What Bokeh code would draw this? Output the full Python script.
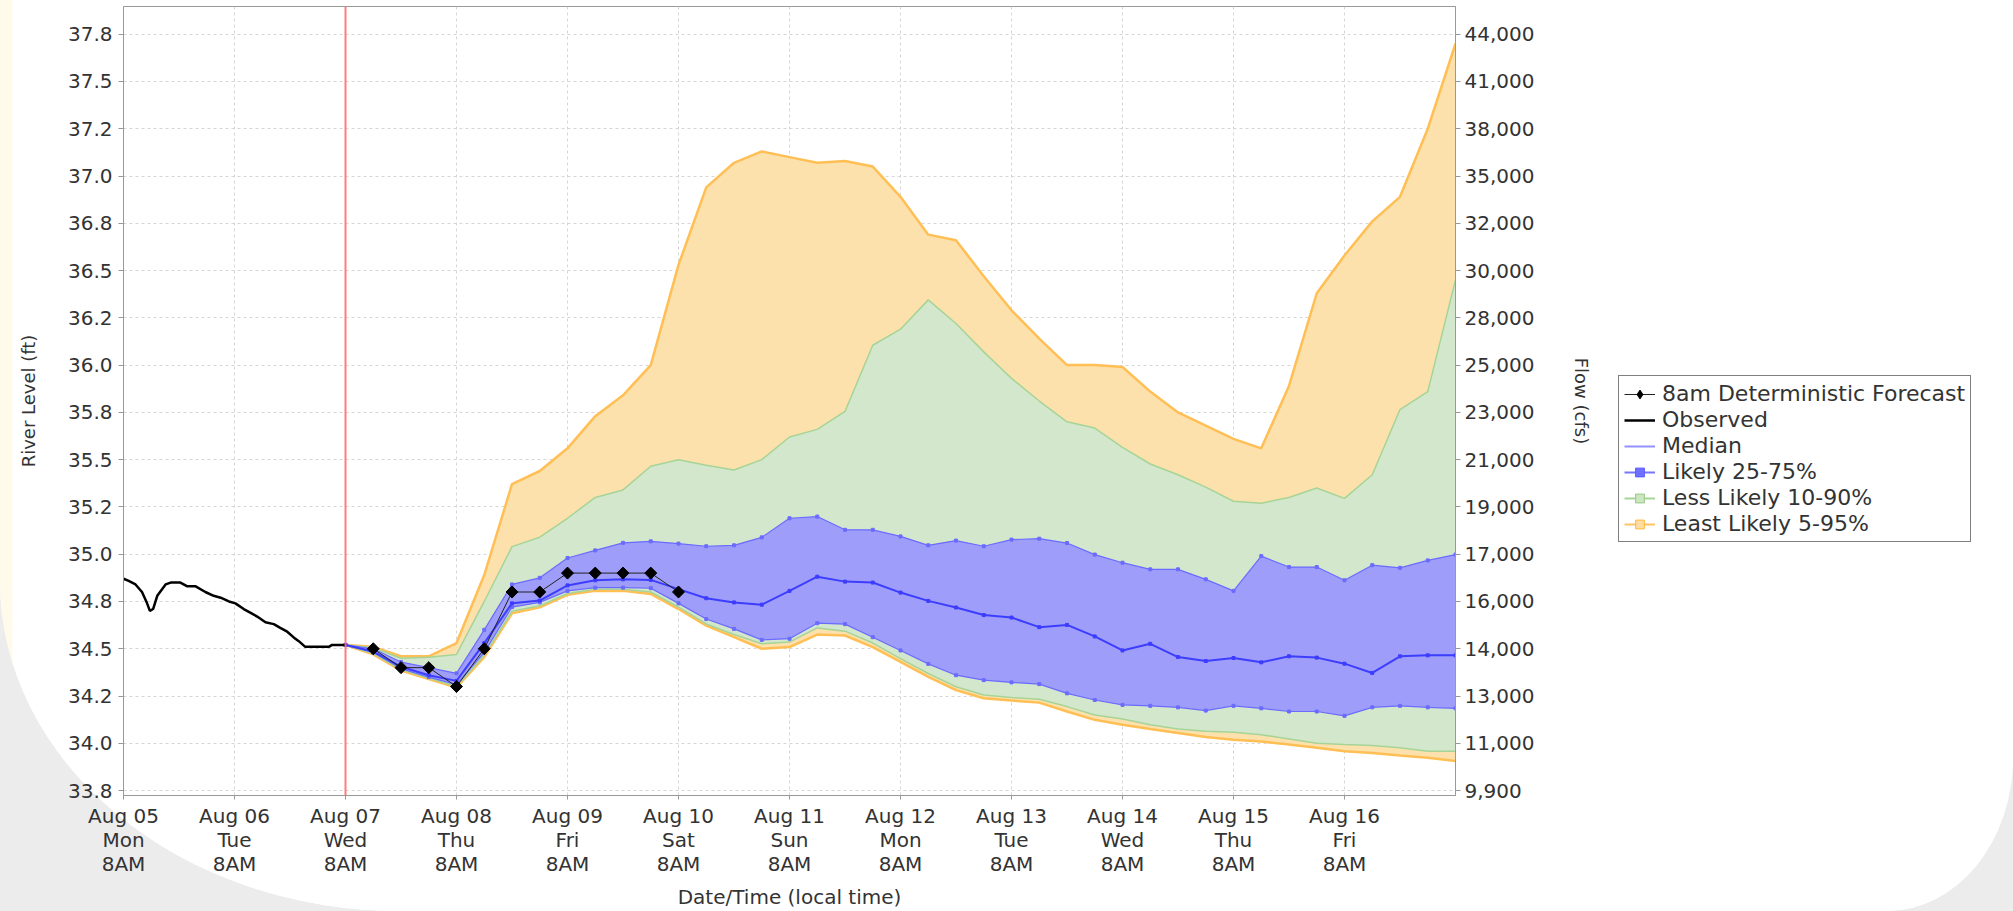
from bokeh.plotting import figure
from bokeh.layouts import row
from bokeh.models import (ColumnDataSource, Range1d, LinearAxis, FixedTicker, Span,
                          Legend, LegendItem, InlineStyleSheet)
from bokeh.embed import file_html
from bokeh.resources import INLINE

# ---------------- data ----------------
# x positions are hours since Mon Aug 05 8AM
x_tick_hours = [0, 24, 48, 72, 96, 120, 144, 168, 192, 216, 240, 264]
x_tick_labels = ["Aug 05\nMon\n8AM", "Aug 06\nTue\n8AM", "Aug 07\nWed\n8AM", "Aug 08\nThu\n8AM",
                 "Aug 09\nFri\n8AM", "Aug 10\nSat\n8AM", "Aug 11\nSun\n8AM", "Aug 12\nMon\n8AM",
                 "Aug 13\nTue\n8AM", "Aug 14\nWed\n8AM", "Aug 15\nThu\n8AM", "Aug 16\nFri\n8AM"]

stage_ticks = [33.75, 34.0, 34.25, 34.5, 34.75, 35.0, 35.25, 35.5, 35.75,
               36.0, 36.25, 36.5, 36.75, 37.0, 37.25, 37.5, 37.75]
stage_tick_labels = ["33.8", "34.0", "34.2", "34.5", "34.8", "35.0", "35.2", "35.5", "35.8",
                     "36.0", "36.2", "36.5", "36.8", "37.0", "37.2", "37.5", "37.8"]
flow_tick_labels = ["9,900", "11,000", "13,000", "14,000", "16,000", "17,000", "19,000",
                    "21,000", "23,000", "25,000", "28,000", "30,000", "32,000", "35,000",
                    "38,000", "41,000", "44,000"]

observed_hours = [0, 1, 2.6, 4.0, 5.1, 5.7, 6.4, 7.3, 9.1, 10.2, 12.3, 13.8, 15.6, 17.7, 19.5,
                  21, 22.8, 24.2, 26, 27.5, 28.9, 30.7, 32.5, 33.9, 35.4, 36.8, 37.9, 39.3,
                  41.9, 44.4, 45.1, 48]
observed_stage = [34.87, 34.86, 34.84, 34.80, 34.74, 34.70, 34.71, 34.78, 34.84, 34.85, 34.85,
                  34.83, 34.83, 34.80, 34.78, 34.77, 34.75, 34.74, 34.71, 34.69, 34.67, 34.64,
                  34.63, 34.61, 34.59, 34.56, 34.54, 34.51, 34.51, 34.51, 34.52, 34.52]

# forecast every 6 hours from Aug 07 8AM to Aug 17 8AM
forecast_hours = [48 + 6 * i for i in range(41)]

q95 = [34.52, 34.51, 34.46, 34.46, 34.53, 34.89, 35.37, 35.44, 35.56, 35.73, 35.84, 36.00,
       36.53, 36.94, 37.07, 37.13, 37.10, 37.07, 37.08, 37.05, 36.89, 36.69, 36.66, 36.47,
       36.29, 36.14, 36.00, 36.00, 35.99, 35.86, 35.75, 35.68, 35.61, 35.56, 35.89, 36.38,
       36.58, 36.76, 36.89, 37.25, 37.70]
q90 = [34.52, 34.505, 34.45, 34.455, 34.47, 34.75, 35.04, 35.09, 35.19, 35.30, 35.34, 35.465,
       35.50, 35.47, 35.445, 35.50, 35.62, 35.66, 35.755, 36.105, 36.19, 36.345, 36.22, 36.07,
       35.93, 35.81, 35.70, 35.667, 35.565, 35.477, 35.42, 35.355, 35.28, 35.27, 35.30, 35.35,
       35.295, 35.42, 35.765, 35.86, 36.45]
q75 = [34.52, 34.50, 34.43, 34.40, 34.37, 34.60, 34.84, 34.875, 34.98, 35.02, 35.06, 35.068,
       35.056, 35.042, 35.047, 35.089, 35.19, 35.199, 35.129, 35.129, 35.094, 35.047, 35.072,
       35.042, 35.077, 35.082, 35.059, 34.998, 34.955, 34.92, 34.92, 34.867, 34.806, 34.99,
       34.932, 34.932, 34.862, 34.942, 34.928, 34.967, 34.998]
q50 = [34.52, 34.485, 34.405, 34.36, 34.33, 34.53, 34.74, 34.755, 34.835, 34.862, 34.867,
       34.864, 34.815, 34.767, 34.745, 34.733, 34.806, 34.881, 34.855, 34.85, 34.797, 34.753,
       34.718, 34.678, 34.665, 34.614, 34.626, 34.565, 34.491, 34.526, 34.456, 34.435, 34.451,
       34.428, 34.46, 34.453, 34.421, 34.372, 34.46, 34.465, 34.465]
q25 = [34.52, 34.48, 34.395, 34.35, 34.31, 34.48, 34.72, 34.745, 34.806, 34.823, 34.823, 34.82,
       34.74, 34.657, 34.605, 34.547, 34.553, 34.635, 34.63, 34.561, 34.491, 34.42, 34.36,
       34.334, 34.322, 34.313, 34.264, 34.229, 34.203, 34.198, 34.19, 34.173, 34.198, 34.185,
       34.168, 34.168, 34.145, 34.19, 34.198, 34.19, 34.185]
q10 = [34.52, 34.475, 34.39, 34.345, 34.30, 34.465, 34.698, 34.727, 34.792, 34.815, 34.815,
       34.80, 34.72, 34.631, 34.575, 34.526, 34.535, 34.61, 34.593, 34.53, 34.448, 34.369,
       34.299, 34.255, 34.242, 34.233, 34.194, 34.15, 34.128, 34.098, 34.075, 34.063, 34.058,
       34.045, 34.023, 34.0, 33.993, 33.988, 33.976, 33.958, 33.958]
q05 = [34.52, 34.47, 34.385, 34.34, 34.295, 34.456, 34.687, 34.719, 34.785, 34.806, 34.806,
       34.79, 34.71, 34.622, 34.561, 34.50, 34.509, 34.575, 34.57, 34.509, 34.43, 34.351,
       34.281, 34.238, 34.226, 34.215, 34.168, 34.124, 34.098, 34.075, 34.054, 34.033, 34.019,
       34.01, 33.993, 33.976, 33.958, 33.949, 33.935, 33.923, 33.906]

deterministic_hours = [54, 60, 66, 72, 78, 84, 90, 96, 102, 108, 114, 120]
deterministic_stage = [34.5, 34.4, 34.4, 34.3, 34.5, 34.8, 34.8, 34.9, 34.9, 34.9, 34.9, 34.8]

forecast_start_hour = 48

legend_labels = ["8am Deterministic Forecast", "Observed", "Median", "Likely 25-75%",
                 "Less Likely 10-90%", "Least Likely 5-95%"]

# ---------------- styling ----------------
FONT = "DejaVu Sans"
TXT = "#333333"
AX = "#999999"
ORANGE_FILL, ORANGE_LINE = "#fde1ac", "#ffbf55"
GREEN_FILL, GREEN_LINE = "#d3e7cc", "#a6d497"
BLUE_FILL, BLUE_LINE = "#9e9efa", "#6b6bff"
MEDIAN = "#3d3dff"

page_css = InlineStyleSheet(css="""
:host {
  background: linear-gradient(to right, #fffaea 0px, #fffaea 12px, #ffffff 13px);
  border-bottom-left-radius: 400px 330px;
  border-bottom-right-radius: 126px 154px;
  box-shadow: 0 0 0 3000px #ececec;
}
""")

p = figure(width=1600, height=911, x_range=Range1d(0, 288), y_range=Range1d(33.7238, 37.8966),
           output_backend="svg", toolbar_location=None,
           min_border_left=123, min_border_right=145, min_border_top=6, min_border_bottom=108)
p.outline_line_color = AX
p.background_fill_color = "white"
p.border_fill_alpha = 0

x_ticker = FixedTicker(ticks=x_tick_hours)
y_ticker = FixedTicker(ticks=stage_ticks)

xa = p.xaxis[0]
xa.ticker = x_ticker
xa.major_label_overrides = dict(zip(x_tick_hours, x_tick_labels))
xa.axis_label = "Date/Time (local time)"
xa.major_label_text_font = FONT
xa.major_label_text_font_size = "20px"
xa.major_label_text_line_height = 1.0
xa.major_label_text_color = TXT
xa.axis_label_text_font = FONT
xa.axis_label_text_font_size = "20px"
xa.axis_label_text_font_style = "normal"
xa.axis_label_text_color = TXT
xa.major_tick_out = 4
xa.major_tick_in = 0
xa.minor_tick_out = 0
xa.minor_tick_in = 0
xa.major_label_standoff = 4
xa.axis_label_standoff = 6
xa.axis_line_color = AX
xa.major_tick_line_color = AX

ya = p.yaxis[0]
ya.ticker = y_ticker
ya.major_label_overrides = dict(zip(stage_ticks, stage_tick_labels))
ya.axis_label = "River Level (ft)"
ya.major_label_text_font = FONT
ya.major_label_text_font_size = "20px"
ya.major_label_text_color = TXT
ya.axis_label_text_font = FONT
ya.axis_label_text_font_size = "18px"
ya.axis_label_text_font_style = "normal"
ya.axis_label_text_color = TXT
ya.major_tick_out = 5
ya.major_tick_in = 0
ya.minor_tick_out = 0
ya.minor_tick_in = 0
ya.major_label_standoff = 6
ya.axis_label_standoff = 26
ya.axis_line_color = AX
ya.major_tick_line_color = AX

ra = LinearAxis(ticker=y_ticker, major_label_overrides=dict(zip(stage_ticks, flow_tick_labels)),
                axis_label="Flow (cfs)")
ra.major_label_text_font = FONT
ra.major_label_text_font_size = "20px"
ra.major_label_text_color = TXT
ra.axis_label_text_font = FONT
ra.axis_label_text_font_size = "18px"
ra.axis_label_text_font_style = "normal"
ra.axis_label_text_color = TXT
ra.major_tick_out = 5
ra.major_tick_in = 0
ra.minor_tick_out = 0
ra.minor_tick_in = 0
ra.major_label_standoff = 4
ra.axis_label_standoff = 34
ra.axis_line_color = AX
ra.major_tick_line_color = AX
p.add_layout(ra, "right")

for g, t in ((p.xgrid[0], x_ticker), (p.ygrid[0], y_ticker)):
    g.ticker = t
    g.grid_line_color = "#d6d6d6"
    g.grid_line_dash = "3 3"
    g.grid_line_width = 1

fc = ColumnDataSource(data=dict(x=forecast_hours, q95=q95, q90=q90, q75=q75, q50=q50,
                                q25=q25, q10=q10, q05=q05))

# bands
p.varea(x="x", y1="q05", y2="q95", source=fc, fill_color=ORANGE_FILL)
p.line(x="x", y="q95", source=fc, line_color=ORANGE_LINE, line_width=2.5)
p.line(x="x", y="q05", source=fc, line_color=ORANGE_LINE, line_width=2.5)
p.varea(x="x", y1="q10", y2="q90", source=fc, fill_color=GREEN_FILL)
p.line(x="x", y="q90", source=fc, line_color=GREEN_LINE, line_width=1.5)
p.line(x="x", y="q10", source=fc, line_color=GREEN_LINE, line_width=1.5)
p.varea(x="x", y1="q25", y2="q75", source=fc, fill_color=BLUE_FILL)
p.line(x="x", y="q75", source=fc, line_color=BLUE_LINE, line_width=1.2)
p.line(x="x", y="q25", source=fc, line_color=BLUE_LINE, line_width=1.2)
p.scatter(x="x", y="q75", source=fc, marker="square", size=3, color=BLUE_LINE)
p.scatter(x="x", y="q25", source=fc, marker="square", size=3, color=BLUE_LINE)
p.line(x="x", y="q50", source=fc, line_color=MEDIAN, line_width=2)
p.scatter(x="x", y="q50", source=fc, marker="square", size=3, color=MEDIAN)

# observed
p.line(observed_hours, observed_stage, line_color="black", line_width=2.5)

# deterministic forecast
p.line(deterministic_hours, deterministic_stage, line_color="#222222", line_width=1)
p.scatter(deterministic_hours, deterministic_stage, marker="square", angle=0.785,
          size=8.5, color="black")

p.add_layout(Span(location=forecast_start_hour, dimension="height", line_color="#ff7070",
                  line_width=2, line_alpha=0.9))

# ---------------- legend panel (separate canvas to the right) ----------------
lg = figure(width=413, height=911, x_range=Range1d(0, 1), y_range=Range1d(0, 1),
            output_backend="svg", toolbar_location=None,
            x_axis_location=None, y_axis_location=None,
            min_border_left=0, min_border_right=0, min_border_top=0, min_border_bottom=0)
lg.outline_line_color = None
lg.background_fill_alpha = 0
lg.border_fill_alpha = 0
lg.grid.visible = False

nan = float("nan")
leg_src = ColumnDataSource(data=dict(x=[nan], y=[nan]))
g_det_l = lg.line("x", "y", source=leg_src, line_color="#222222", line_width=1)
g_det_m = lg.scatter("x", "y", source=leg_src, marker="diamond", size=12, color="black")
g_obs = lg.line("x", "y", source=leg_src, line_color="black", line_width=2.5)
g_med = lg.line("x", "y", source=leg_src, line_color="#9393ff", line_width=2)
g_b_l = lg.line("x", "y", source=leg_src, line_color="#7575ff", line_width=2)
g_b_m = lg.scatter("x", "y", source=leg_src, marker="square", size=9, fill_color="#7070ff",
                   line_color="#5a5aff")
g_g_l = lg.line("x", "y", source=leg_src, line_color="#a6d497", line_width=2)
g_g_m = lg.scatter("x", "y", source=leg_src, marker="square", size=9, fill_color="#cbe6c1",
                   line_color="#95c985")
g_o_l = lg.line("x", "y", source=leg_src, line_color="#ffc466", line_width=2)
g_o_m = lg.scatter("x", "y", source=leg_src, marker="square", size=9, fill_color="#ffdca0",
                   line_color="#ffb940")

legend_glyphs = [[g_det_l, g_det_m], [g_obs], [g_med], [g_b_l, g_b_m], [g_g_l, g_g_m],
                 [g_o_l, g_o_m]]
legend = Legend(items=[LegendItem(label=lab, renderers=rs)
                       for lab, rs in zip(legend_labels, legend_glyphs)],
                location=(18, 253))
legend.label_text_font = FONT
legend.label_text_font_size = "22px"
legend.label_text_color = TXT
legend.border_line_color = "black"
legend.border_line_width = 1.5
legend.background_fill_color = "white"
legend.background_fill_alpha = 1
legend.padding = 5
legend.margin = 0
legend.spacing = 1
legend.glyph_width = 31
legend.glyph_height = 22
legend.label_standoff = 7
legend.label_height = 22
lg.add_layout(legend)

layout = row(p, lg)
layout.stylesheets = [page_css]

open("out.html", "w").write(file_html(layout, INLINE))
